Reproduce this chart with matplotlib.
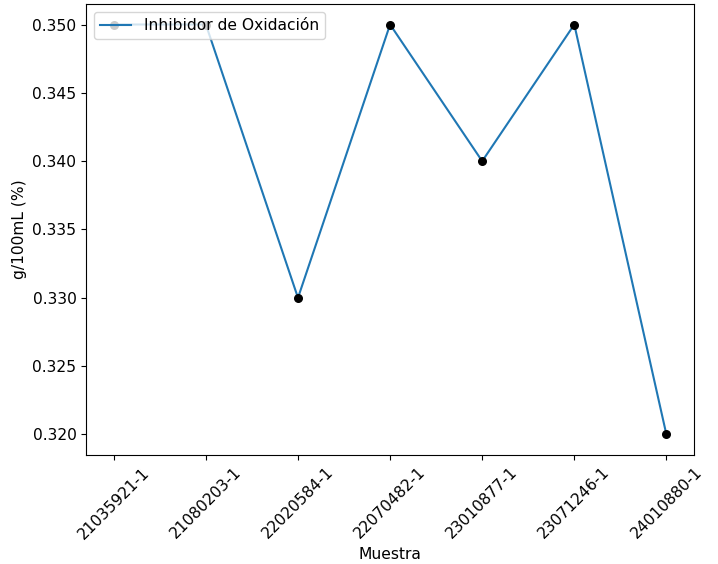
import matplotlib
matplotlib.use("Agg")
import matplotlib.pyplot as plt

# Datos de la muestra
muestras = ['21035921-1', '21080203-1', '22020584-1', '22070482-1',
            '23010877-1', '23071246-1', '24010880-1']
valores = [0.350, 0.350, 0.330, 0.350, 0.340, 0.350, 0.320]

plt.rcParams['font.size'] = 11.2

fig = plt.figure(figsize=(7.18, 5.64), dpi=100)
plt.plot(muestras, valores, label='Inhibidor de Oxidación')
plt.scatter(muestras, valores, color='black', zorder=3, s=30)
plt.xlabel('Muestra')
plt.ylabel('g/100mL (%)')
plt.xticks(rotation=45)
plt.legend(loc='upper left')
plt.subplots_adjust(left=0.12, right=0.9666, top=0.9929, bottom=0.1933)
plt.savefig('out.png', dpi=100)
